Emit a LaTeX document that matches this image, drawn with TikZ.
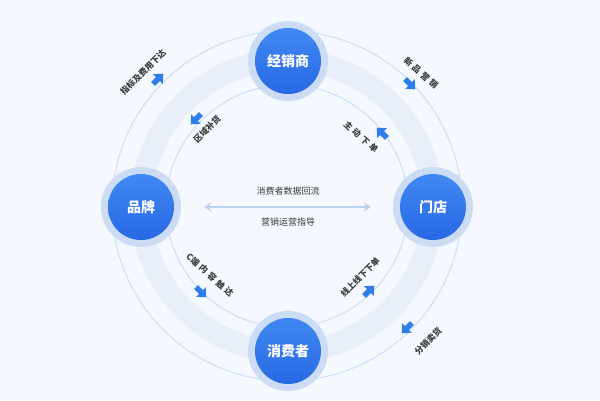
\documentclass[tikz,border=0pt]{standalone}
\usepackage{fontspec}
\newfontfamily\cjk{Noto Sans CJK SC}
\usetikzlibrary{arrows.meta}
\definecolor{bg}{HTML}{F5F8FE}
\definecolor{bandcol}{HTML}{E8EFF9}
\definecolor{thinline}{HTML}{C6DEFA}
\definecolor{halo}{HTML}{CBDCF4}
\definecolor{ntop}{HTML}{4088F3}
\definecolor{nbot}{HTML}{2968E4}
\definecolor{arr}{HTML}{2F7CEB}
\definecolor{midcol}{HTML}{B9D0F1}
\definecolor{txt}{HTML}{3A3A3A}
\tikzset{
  hub/.style={circle, minimum size=66pt, inner sep=0pt, top color=ntop, bottom color=nbot,
    preaction={draw=halo, line width=14pt}, text=white, font=\cjk\bfseries\fontsize{14}{16}\selectfont},
  lbl/.style={text=txt, font=\cjk\bfseries\fontsize{8.5}{10}\selectfont, inner sep=0pt},
  midlbl/.style={text=txt, font=\cjk\fontsize{9}{11}\selectfont, inner sep=0pt},
  barrow/.pic={\fill[arr] (-7,-2.8) -- (0,-2.8) -- (0,-6.8) -- (7.5,0) -- (0,6.8) -- (0,2.8) -- (-7,2.8) -- cycle;}
}
\begin{document}
\begin{tikzpicture}[x=1pt,y=1pt]
\fill[bg] (0,0) rectangle (600,-400);
\useasboundingbox (0,0) rectangle (600,-400);
\coordinate (C) at (287,-206);
\draw[draw=bandcol, line width=22pt] (C) circle (146);
\draw[draw=thinline, line width=0.9pt] (C) circle (175);
\draw[draw=thinline, line width=0.9pt] (C) circle (121);
% nodes
\node[hub] (jxs) at (288,-61) {经销商};
\node[hub] (pp) at (141,-207) {品牌};
\node[hub] (md) at (433,-207) {门店};
\node[hub] (xfz) at (288,-351) {消费者};
% center connector
\draw[draw=midcol, line width=2.5pt, {Stealth[length=7pt,width=9pt]}-{Stealth[length=7pt,width=9pt]}, shorten <=30pt, shorten >=29pt] (pp) -- (md);
\node[midlbl] (t1) at (288,-191) {消费者数据回流};
\node[midlbl] (t2) at (288,-222) {营销运营指导};
% block arrows
\pic[rotate=45] at (158,-79) {barrow};
\pic[rotate=-45] at (410,-84) {barrow};
\pic[rotate=225] at (196,-119) {barrow};
\pic[rotate=135] at (382,-133) {barrow};
\pic[rotate=-45] at (201,-292) {barrow};
\pic[rotate=45] at (369,-291) {barrow};
\pic[rotate=225] at (407,-328) {barrow};
% labels
\node[lbl, rotate=45] (a1) at (143,-72) {指标及费用下达};
\node[lbl, rotate=-42] (a2) at (421,-73) {新\,\,品\,\,营\,\,销};
\node[lbl, rotate=45] (a3) at (207,-129) {区域补货};
\node[lbl, rotate=-42] (a4) at (361,-137) {主\,\,动\,\,下\,\,单};
\node[lbl, rotate=-42] (a5) at (210,-275) {C端\,\,内\,\,容\,\,触\,\,达};
\node[lbl, rotate=45] (a6) at (360,-277) {线上线下下单};
\node[lbl, rotate=45] (a7) at (428,-341) {分销卖货};
\end{tikzpicture}
\end{document}
